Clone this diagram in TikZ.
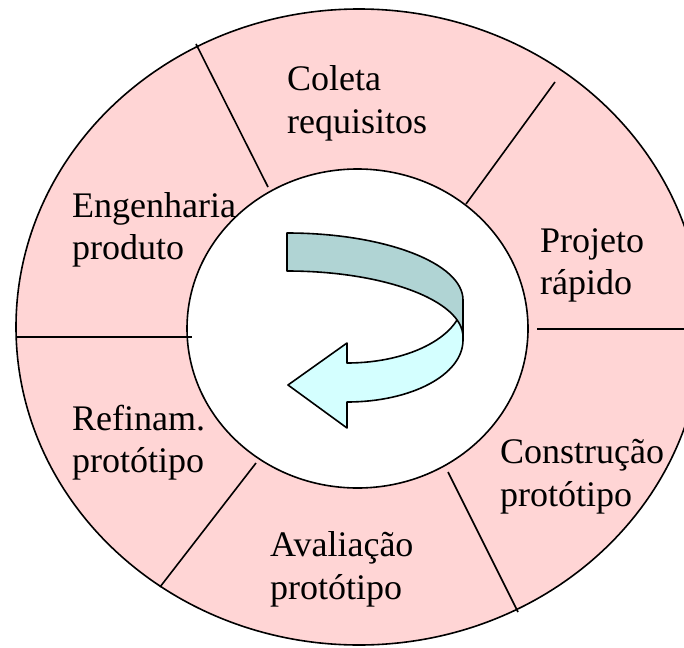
\documentclass[tikz,border=0pt]{standalone}
\usepackage{fontspec}
\setmainfont{Liberation Serif}
\definecolor{ringpink}{HTML}{FFD5D5}
\definecolor{backteal}{HTML}{B0D4D4}
\definecolor{frontcyan}{HTML}{D4FFFF}
\begin{document}
\begin{tikzpicture}[x=1pt,y=-1pt, line join=round,
  lbl/.style={anchor=base west, inner sep=0pt, font=\fontsize{36}{43}\selectfont},
  edge/.style={draw=black, line width=1.6pt}]
\useasboundingbox (0,0) rectangle (684,647);
\clip (0,0) rectangle (684,647);
\fill[white] (0,0) rectangle (684,647);
% ring
\draw[edge, fill=ringpink] (359,327) ellipse [x radius=343pt, y radius=318pt];
\draw[edge, fill=white] (357.5,328.5) ellipse [x radius=170.5pt, y radius=159.5pt];
% divider end points
\coordinate (d1o) at (196,44);  \coordinate (d1i) at (268,187);
\coordinate (d2o) at (555,82);  \coordinate (d2i) at (466,204);
\coordinate (d3i) at (537,329); \coordinate (d3o) at (690,329);
\coordinate (d4o) at (16,337);  \coordinate (d4i) at (192,337);
\coordinate (d5i) at (256,463); \coordinate (d5o) at (160,587);
\coordinate (d6i) at (448,472); \coordinate (d6o) at (518,612);
\draw[edge] (d1o) -- (d1i);
\draw[edge] (d2o) -- (d2i);
\draw[edge] (d3i) -- (d3o);
\draw[edge] (d4o) -- (d4i);
\draw[edge] (d5i) -- (d5o);
\draw[edge] (d6i) -- (d6o);
% curved arrow: front (light) band with head
\draw[edge, fill=frontcyan] (463,300) .. controls (463,334.8) and (411,363) .. (347,363)
  -- (347,343) -- (288,385) -- (347,428) -- (347,402)
  .. controls (411,402) and (463,375) .. (463,340) -- cycle;
% back (dark) band
\draw[edge, fill=backteal] (287,233) .. controls (384,233) and (463,263) .. (463,300)
  -- (463,337) .. controls (463,300.5) and (384,271) .. (287,271) -- cycle;
% labels
\node[lbl] (coleta) at (287,91) {Coleta};
\node[lbl] (requisitos) at (287,134) {requisitos};
\node[lbl] (engenharia) at (72,217) {Engenharia};
\node[lbl] (produto) at (72,259) {produto};
\node[lbl] (projeto) at (540,252) {Projeto};
\node[lbl] (rapido) at (540,294) {rápido};
\node[lbl] (refinam) at (72,430) {Refinam.};
\node[lbl] (prot1) at (72,472) {protótipo};
\node[lbl] (construcao) at (500,463) {Construção};
\node[lbl] (prot2) at (500,506) {protótipo};
\node[lbl] (avaliacao) at (270,556) {Avaliação};
\node[lbl] (prot3) at (270,599) {protótipo};
\end{tikzpicture}
\end{document}
